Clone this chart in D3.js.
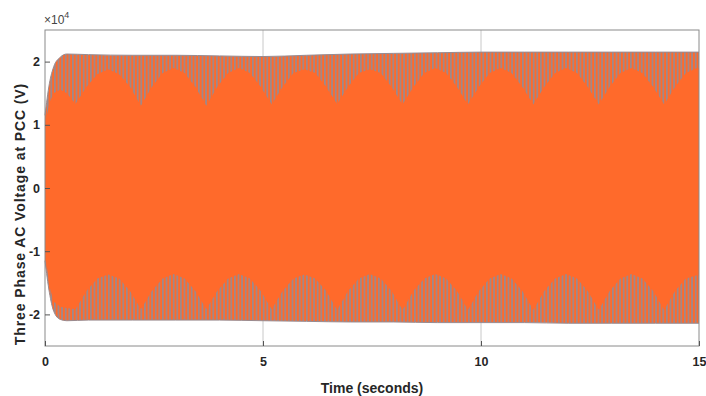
<!DOCTYPE html>
<html><head><meta charset="utf-8">
<script src="https://cdn.jsdelivr.net/npm/d3@7"></script>
<style>body{margin:0;background:#fff}svg{display:block}</style>
</head><body>
<svg id="chart" width="706" height="396"></svg>
<script>
// ---- data (values in units of 1e4 V) ----
const xTicks = [0, 5, 10, 15];
const yTicks = [-2, -1, 0, 1, 2];

// outer envelope of the three-phase waveform
const envTimes  = [0, 0.1, 0.2, 0.35, 0.5, 1, 2, 3, 4, 5, 6, 7, 8, 9, 10, 11, 12, 13, 14, 15];
const envTop    = [1.15, 1.65, 1.92, 2.07, 2.12, 2.11, 2.1, 2.1, 2.09, 2.08, 2.1, 2.12, 2.13, 2.14, 2.15, 2.15, 2.15, 2.15, 2.15, 2.15];
const envBottom = [-1.15, -1.65, -1.95, -2.08, -2.1, -2.09, -2.09, -2.09, -2.09, -2.1, -2.11, -2.12, -2.12, -2.13, -2.13, -2.13, -2.14, -2.14, -2.14, -2.14];

// inner (solid orange) boundary, showing the beat pattern
const innerTimes = [0, 0.1, 0.2, 0.35, 0.5,
  0.7, 0.95, 1.2, 1.45, 1.7, 1.95,
  2.2, 2.45, 2.7, 2.95, 3.2, 3.45,
  3.7, 3.95, 4.2, 4.45, 4.7, 4.95,
  5.2, 5.45, 5.7, 5.95, 6.2, 6.45,
  6.7, 6.95, 7.2, 7.45, 7.7, 7.95,
  8.2, 8.45, 8.7, 8.95, 9.2, 9.45,
  9.7, 9.95, 10.2, 10.45, 10.7, 10.95,
  11.2, 11.45, 11.7, 11.95, 12.2, 12.45,
  12.7, 12.95, 13.2, 13.45, 13.7, 13.95,
  14.2, 14.45, 14.7, 14.95, 15];
const innerTop = [1.0, 1.35, 1.5, 1.56, 1.5,
  1.33, 1.6, 1.8, 1.88, 1.8, 1.6,
  1.3, 1.6, 1.82, 1.9, 1.82, 1.6,
  1.3, 1.6, 1.82, 1.9, 1.82, 1.6,
  1.32, 1.6, 1.82, 1.88, 1.82, 1.6,
  1.33, 1.6, 1.82, 1.88, 1.82, 1.6,
  1.32, 1.6, 1.82, 1.9, 1.82, 1.6,
  1.32, 1.6, 1.82, 1.9, 1.82, 1.6,
  1.32, 1.6, 1.82, 1.9, 1.82, 1.6,
  1.32, 1.6, 1.82, 1.9, 1.82, 1.6,
  1.32, 1.6, 1.82, 1.9, 1.9];
const innerBottom = [-1.0, -1.55, -1.8, -1.88, -1.9,
  -1.92, -1.63, -1.43, -1.37, -1.43, -1.63,
  -1.92, -1.63, -1.43, -1.36, -1.43, -1.63,
  -1.92, -1.63, -1.43, -1.36, -1.43, -1.63,
  -1.92, -1.63, -1.43, -1.37, -1.43, -1.63,
  -1.93, -1.63, -1.43, -1.36, -1.43, -1.63,
  -1.93, -1.63, -1.43, -1.36, -1.43, -1.63,
  -1.93, -1.63, -1.43, -1.36, -1.43, -1.63,
  -1.93, -1.63, -1.43, -1.36, -1.43, -1.63,
  -1.93, -1.63, -1.43, -1.36, -1.43, -1.63,
  -1.93, -1.63, -1.43, -1.38, -1.38];

// ---- drawing ----
const ORANGE = "#ff6a2b", GREY = "#9a8a8e";
const svg = d3.select("#chart");
const x = d3.scaleLinear().domain([0, 15]).range([45, 699]);
const y = d3.scaleLinear().domain([-2.5, 2.5]).range([346, 30]);

const defs = svg.append("defs");
const pat = defs.append("pattern").attr("id", "stripes")
  .attr("patternUnits", "userSpaceOnUse").attr("width", 3.6).attr("height", 10);
pat.append("rect").attr("width", 3.6).attr("height", 10).attr("fill", ORANGE);
pat.append("rect").attr("width", 1.7).attr("height", 10).attr("fill", GREY);

// grid lines (vertical)
svg.append("g").selectAll("line").data(xTicks.slice(1, -1)).join("line")
  .attr("x1", d => x(d)).attr("x2", d => x(d))
  .attr("y1", y(2.5)).attr("y2", y(-2.5))
  .attr("stroke", "#c8c8c8").attr("stroke-width", 1);

const env = envTimes.map((t, i) => ({t, hi: envTop[i], lo: envBottom[i]}));
const inner = innerTimes.map((t, i) => ({t, hi: innerTop[i], lo: innerBottom[i]}));

const area = d3.area().x(d => x(d.t)).y0(d => y(d.lo)).y1(d => y(d.hi)).curve(d3.curveMonotoneX);

svg.append("path").datum(env).attr("d", area).attr("fill", "url(#stripes)");
svg.append("path").datum(env)
  .attr("d", d3.line().x(d => x(d.t)).y(d => y(d.hi)).curve(d3.curveMonotoneX))
  .attr("fill", "none").attr("stroke", GREY).attr("stroke-width", 1);
svg.append("path").datum(env)
  .attr("d", d3.line().x(d => x(d.t)).y(d => y(d.lo)).curve(d3.curveMonotoneX))
  .attr("fill", "none").attr("stroke", GREY).attr("stroke-width", 1);
svg.append("path").datum(inner)
  .attr("d", d3.area().x(d => x(d.t)).y0(d => y(d.lo)).y1(d => y(d.hi)))
  .attr("fill", ORANGE);

// frame
svg.append("rect").attr("x", 45).attr("y", 30).attr("width", 654).attr("height", 316)
  .attr("fill", "none").attr("stroke", "#8a8a8a").attr("stroke-width", 1);

const font = "'Liberation Sans', Arial, sans-serif";
const xAxis = svg.append("g").attr("transform", "translate(0,346)")
  .call(d3.axisBottom(x).tickValues(xTicks).tickSize(-5).tickPadding(11).tickFormat(d3.format("d")));
const yAxis = svg.append("g").attr("transform", "translate(45,0)")
  .call(d3.axisLeft(y).tickValues(yTicks).tickSize(-5).tickPadding(5).tickFormat(d3.format("d")));
[xAxis, yAxis].forEach(g => {
  g.select(".domain").remove();
  g.selectAll(".tick line").attr("stroke", "#555");
  g.selectAll("text").attr("fill", "#262626").attr("font-family", font)
    .attr("font-size", 12.5).attr("font-weight", "bold");
});
yAxis.selectAll("text").text(d => d < 0 ? "-" + Math.abs(d) : d);

// exponent label
const ex = svg.append("text").attr("x", 44).attr("y", 24).attr("font-family", font)
  .attr("font-size", 12).attr("fill", "#444");
ex.append("tspan").text("\u00d710");
ex.append("tspan").attr("dy", -6).attr("font-size", 9).text("4");

// axis titles
svg.append("text").attr("x", 372).attr("y", 393).attr("text-anchor", "middle")
  .attr("font-family", font).attr("font-size", 14).attr("font-weight", "bold")
  .attr("fill", "#262626").text("Time (seconds)");
svg.append("text").attr("transform", "translate(25,214) rotate(-90)")
  .attr("text-anchor", "middle").attr("font-family", font).attr("font-size", 14)
  .attr("font-weight", "bold").attr("letter-spacing", 0.9).attr("fill", "#262626")
  .text("Three Phase AC Voltage at PCC (V)");
</script>
</body></html>
